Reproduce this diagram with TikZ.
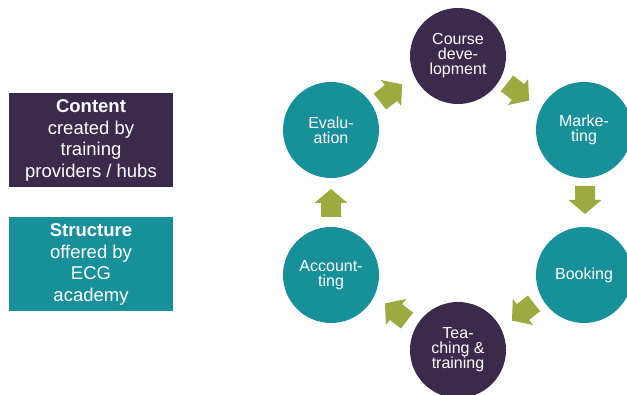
\documentclass[tikz,border=0pt]{standalone}
\usepackage{fontspec}
\setmainfont{Liberation Sans}
\definecolor{cpurple}{HTML}{3B2A4C}
\definecolor{cteal}{HTML}{17909A}
\definecolor{cgreen}{HTML}{9CAA40}
\begin{document}
\begin{tikzpicture}[x=1pt,y=1pt,
  stage/.style={circle,minimum size=96pt,inner sep=0pt,text=white,align=center,
    font=\fontsize{16}{15}\selectfont},
  infobox/.style={rectangle,minimum width=164pt,minimum height=94pt,inner sep=0pt,
    text=white,align=center,font=\fontsize{18.5}{21.7}\selectfont},
  blockarrow/.pic={\fill[cgreen] (-14,-10) -- (0,-10) -- (0,-16.5) -- (14,0) -- (0,16.5) -- (0,10) -- (-14,10) -- cycle;}
]
\useasboundingbox (0,0) rectangle (627,394);
\fill[white] (0,0) rectangle (627,394);

\node[infobox,fill=cpurple] (content) at (91,253.5)
  {\textbf{Content}\\created by\\training\\providers / hubs};
\node[infobox,fill=cteal] (structure) at (91,129.5)
  {\textbf{Structure}\\offered by\\ECG\\academy};

\node[stage,fill=cpurple] (course) at (458,338) {Course\\deve-\\lopment};
\node[stage,fill=cteal] (market) at (584,264) {Marke-\\ting};
\node[stage,fill=cteal] (booking) at (584,119) {Booking};
\node[stage,fill=cpurple] (teach) at (458,44) {Tea-\\ching \&\\training};
\node[stage,fill=cteal] (account) at (331,119) {Account-\\ting};
\node[stage,fill=cteal] (eval) at (331,264) {Evalu-\\ation};

\pic[rotate=38] (a1) at (391,301) {blockarrow};
\pic[rotate=-38] (a2) at (518,302) {blockarrow};
\pic[rotate=-90] (a3) at (585,194) {blockarrow};
\pic[rotate=-142] (a4) at (523,82) {blockarrow};
\pic[rotate=142] (a5) at (396,82) {blockarrow};
\pic[rotate=90] (a6) at (331,191) {blockarrow};
\end{tikzpicture}
\end{document}
